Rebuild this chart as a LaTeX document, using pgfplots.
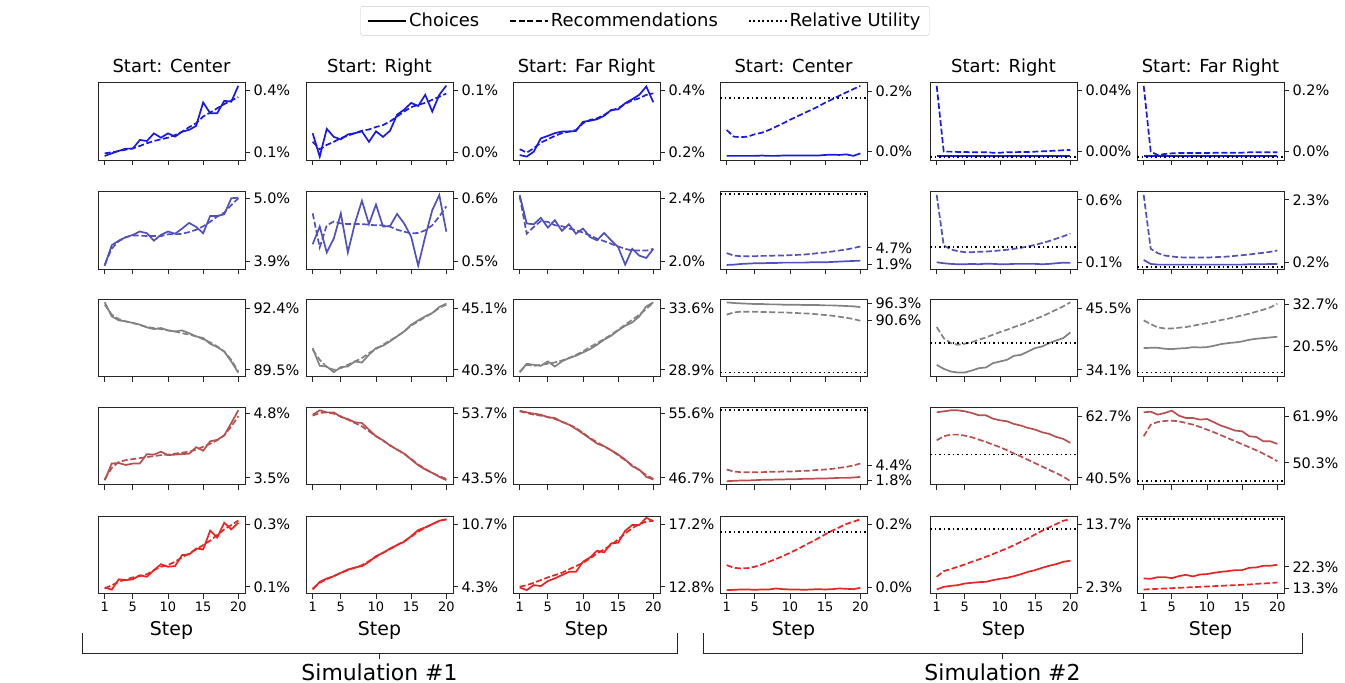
\documentclass[border=0pt]{standalone}
\usepackage{fontspec}
\setmainfont{DejaVu Sans}
\usepackage{pgfplots}
\pgfplotsset{compat=1.18}

\definecolor{cFL}{RGB}{25,25,230}
\definecolor{cL}{RGB}{80,80,190}
\definecolor{cC}{RGB}{130,130,130}
\definecolor{cR}{RGB}{185,80,80}
\definecolor{cFR}{RGB}{235,35,35}

\pgfplotsset{
  panel/.style={scale only axis, width=147bp, height=77.5bp, anchor=north west,
    xmin=0.05, xmax=20.95, xtick={1,5,10,15,20}, xticklabels={},
    xtick pos=left, ytick pos=right, yticklabel pos=right,
    scaled y ticks=false,
    tick align=outside, major tick length=5bp,
    axis line style={black!85, line width=0.9bp},
    tick style={black!85, line width=0.9bp},
    ticklabel style={font=\fontsize{14.5}{16}\selectfont}},
  bottomrow/.style={xticklabels={1,5,10,15,20}, xlabel={Step},
    xlabel style={font=\fontsize{19}{21}\selectfont, yshift=-3bp},
    xticklabel style={font=\fontsize{13}{15}\selectfont}},
  toprow/.style={title={#1}, title style={font=\fontsize{18}{20}\selectfont,
    at={(0.5,1)}, anchor=base, yshift=4bp}},
  ch/.style={line width=1.7bp},
  rec/.style={line width=1.7bp, dash pattern=on 6bp off 2.6bp},
  ru/.style={black, line width=1.8bp, dash pattern=on 1.8bp off 2.7bp},
}
\tikzset{rowlab/.style={anchor=east, font=\fontsize{19}{21}\selectfont}}

\begin{document}
\begin{tikzpicture}
\path[use as bounding box] (0,0) rectangle (1345bp,-683bp);

% ---------------- Simulation #1 ----------------
% Far Left
\begin{axis}[panel, toprow={Start: Center}, at={(98bp,-82.5bp)},
  ymin=0.0627, ymax=0.439, ytick={0.1,0.4}, yticklabels={0.1\%,0.4\%},
  legend columns=3,
  legend style={at={(3.721,1.795)}, anchor=center, draw=black!20, rounded corners=2.5bp,
    font=\fontsize{18}{20}\selectfont, inner xsep=7bp, inner ysep=5bp,
    /tikz/every even column/.append style={column sep=28bp}},
  legend image code/.code={\draw[#1] (0bp,0bp) -- (38bp,0bp);}]
\addlegendimage{ch, black}
\addlegendimage{rec, black}
\addlegendimage{ru}
\legend{Choices, Recommendations, Relative Utility}
\addplot[ch, cFL, forget plot] coordinates {(1,0.082)(2,0.095)(3,0.107)(4,0.118)(5,0.118)(6,0.160)(7,0.155)(8,0.192)(9,0.171)(10,0.192)(11,0.176)(12,0.200)(13,0.209)(14,0.228)(15,0.342)(16,0.290)(17,0.290)(18,0.350)(19,0.346)(20,0.423)};
\addplot[rec, cFL, forget plot] coordinates {(1,0.095)(2,0.100)(3,0.106)(4,0.113)(5,0.119)(6,0.131)(7,0.144)(8,0.155)(9,0.163)(10,0.171)(11,0.184)(12,0.200)(13,0.222)(14,0.241)(15,0.274)(16,0.293)(17,0.314)(18,0.334)(19,0.351)(20,0.368)};
\node[rowlab] at (rel axis cs:-0.05,0.5) {Far Left};
\end{axis}

\begin{axis}[panel, toprow={Start: Right}, at={(306bp,-82.5bp)},
  ymin=-0.0024, ymax=0.123, ytick={0.01,0.11}, yticklabels={0.0\%,0.1\%}]
\addplot[ch, cFL] coordinates {(1,0.041)(2,0.003)(3,0.048)(4,0.035)(5,0.031)(6,0.039)(7,0.041)(8,0.044)(9,0.027)(10,0.044)(11,0.035)(12,0.045)(13,0.071)(14,0.079)(15,0.090)(16,0.085)(17,0.103)(18,0.076)(19,0.103)(20,0.118)};
\addplot[rec, cFL] coordinates {(1,0.027)(2,0.015)(3,0.022)(4,0.027)(5,0.033)(6,0.037)(7,0.041)(8,0.045)(9,0.047)(10,0.051)(11,0.054)(12,0.060)(13,0.068)(14,0.076)(15,0.083)(16,0.087)(17,0.090)(18,0.095)(19,0.100)(20,0.105)};
\end{axis}

\begin{axis}[panel, toprow={Start: Far Right}, at={(513bp,-82.5bp)},
  ymin=0.175, ymax=0.426, ytick={0.2,0.4}, yticklabels={0.2\%,0.4\%}]
\addplot[ch, cFL] coordinates {(1,0.191)(2,0.186)(3,0.202)(4,0.245)(5,0.253)(6,0.262)(7,0.267)(8,0.267)(9,0.269)(10,0.299)(11,0.302)(12,0.307)(13,0.318)(14,0.337)(15,0.339)(16,0.359)(17,0.372)(18,0.386)(19,0.413)(20,0.362)};
\addplot[rec, cFL] coordinates {(1,0.210)(2,0.199)(3,0.213)(4,0.231)(5,0.242)(6,0.253)(7,0.262)(8,0.267)(9,0.272)(10,0.294)(11,0.305)(12,0.310)(13,0.321)(14,0.335)(15,0.343)(16,0.357)(17,0.368)(18,0.375)(19,0.386)(20,0.391)};
\end{axis}

% Left
\begin{axis}[panel, at={(98bp,-191.5bp)},
  ymin=3.765, ymax=5.118, ytick={3.9,5.0}, yticklabels={3.9\%,5.0\%}]
\addplot[ch, cL] coordinates {(1,3.82)(2,4.18)(3,4.26)(4,4.32)(5,4.36)(6,4.42)(7,4.39)(8,4.26)(9,4.36)(10,4.42)(11,4.38)(12,4.47)(13,4.57)(14,4.50)(15,4.39)(16,4.69)(17,4.69)(18,4.72)(19,5.00)(20,5.01)};
\addplot[rec, cL] coordinates {(1,3.84)(2,4.12)(3,4.25)(4,4.32)(5,4.35)(6,4.35)(7,4.34)(8,4.34)(9,4.34)(10,4.37)(11,4.37)(12,4.38)(13,4.41)(14,4.45)(15,4.51)(16,4.59)(17,4.68)(18,4.75)(19,4.88)(20,5.00)};
\node[rowlab] at (rel axis cs:-0.05,0.5) {Left};
\end{axis}

\begin{axis}[panel, at={(306bp,-191.5bp)},
  ymin=0.4877, ymax=0.6107, ytick={0.5,0.6}, yticklabels={0.5\%,0.6\%}]
\addplot[ch, cL] coordinates {(1,0.527)(2,0.555)(3,0.514)(4,0.536)(5,0.576)(6,0.514)(7,0.560)(8,0.596)(9,0.559)(10,0.590)(11,0.555)(12,0.556)(13,0.575)(14,0.560)(15,0.539)(16,0.493)(17,0.539)(18,0.581)(19,0.605)(20,0.547)};
\addplot[rec, cL] coordinates {(1,0.576)(2,0.522)(3,0.557)(4,0.563)(5,0.560)(6,0.559)(7,0.559)(8,0.559)(9,0.558)(10,0.557)(11,0.557)(12,0.555)(13,0.550)(14,0.547)(15,0.544)(16,0.545)(17,0.549)(18,0.557)(19,0.571)(20,0.587)};
\end{axis}

\begin{axis}[panel, at={(513bp,-191.5bp)},
  ymin=1.951, ymax=2.443, ytick={2.0,2.4}, yticklabels={2.0\%,2.4\%}]
\addplot[ch, cL] coordinates {(1,2.420)(2,2.240)(3,2.235)(4,2.276)(5,2.214)(6,2.261)(7,2.193)(8,2.235)(9,2.175)(10,2.208)(11,2.154)(12,2.133)(13,2.180)(14,2.133)(15,2.090)(16,1.979)(17,2.079)(18,2.036)(19,2.021)(20,2.079)};
\addplot[rec, cL] coordinates {(1,2.411)(2,2.175)(3,2.218)(4,2.255)(5,2.250)(6,2.229)(7,2.223)(8,2.208)(9,2.197)(10,2.182)(11,2.165)(12,2.143)(13,2.128)(14,2.111)(15,2.094)(16,2.079)(17,2.068)(18,2.068)(19,2.068)(20,2.079)};
\end{axis}

% Center
\begin{axis}[panel, at={(98bp,-299bp)},
  ymin=89.19, ymax=92.82, ytick={89.5,92.4}, yticklabels={89.5\%,92.4\%}]
\addplot[ch, cC] coordinates {(1,92.67)(2,92.01)(3,91.82)(4,91.77)(5,91.70)(6,91.62)(7,91.49)(8,91.41)(9,91.46)(10,91.35)(11,91.30)(12,91.35)(13,91.22)(14,91.07)(15,90.99)(16,90.72)(17,90.57)(18,90.36)(19,89.89)(20,89.37)};
\addplot[rec, cC] coordinates {(1,92.56)(2,92.09)(3,91.88)(4,91.77)(5,91.70)(6,91.60)(7,91.51)(8,91.46)(9,91.41)(10,91.35)(11,91.30)(12,91.22)(13,91.15)(14,91.07)(15,90.94)(16,90.79)(17,90.60)(18,90.36)(19,89.97)(20,89.42)};
\node[rowlab] at (rel axis cs:-0.05,0.5) {Center};
\end{axis}

\begin{axis}[panel, at={(306bp,-299bp)},
  ymin=39.78, ymax=45.80, ytick={40.3,45.1}, yticklabels={40.3\%,45.1\%}]
\addplot[ch, cC] coordinates {(1,41.99)(2,40.61)(3,40.56)(4,40.12)(5,40.51)(6,40.56)(7,40.95)(8,40.87)(9,41.47)(10,41.99)(11,42.17)(12,42.51)(13,42.90)(14,43.28)(15,43.80)(16,44.14)(17,44.45)(18,44.71)(19,45.18)(20,45.44)};
\addplot[rec, cC] coordinates {(1,41.86)(2,41.08)(3,40.51)(4,40.30)(5,40.43)(6,40.69)(7,40.95)(8,41.21)(9,41.60)(10,41.91)(11,42.25)(12,42.58)(13,42.90)(14,43.28)(15,43.73)(16,44.06)(17,44.40)(18,44.71)(19,45.10)(20,45.36)};
\end{axis}

\begin{axis}[panel, at={(513bp,-299bp)},
  ymin=28.39, ymax=34.29, ytick={28.9,33.6}, yticklabels={28.9\%,33.6\%}]
\addplot[ch, cC] coordinates {(1,28.70)(2,29.36)(3,29.28)(4,29.20)(5,29.54)(6,29.15)(7,29.54)(8,29.79)(9,29.97)(10,30.22)(11,30.47)(12,30.81)(13,31.19)(14,31.49)(15,31.90)(16,32.25)(17,32.51)(18,32.96)(19,33.73)(20,34.03)};
\addplot[rec, cC] coordinates {(1,28.77)(2,29.28)(3,29.20)(4,29.28)(5,29.36)(6,29.46)(7,29.61)(8,29.79)(9,30.04)(10,30.30)(11,30.63)(12,30.93)(13,31.24)(14,31.57)(15,31.95)(16,32.33)(17,32.71)(18,33.09)(19,33.52)(20,34.03)};
\end{axis}

% Right
\begin{axis}[panel, at={(98bp,-407bp)},
  ymin=3.365, ymax=4.935, ytick={3.5,4.8}, yticklabels={3.5\%,4.8\%}]
\addplot[ch, cR] coordinates {(1,3.45)(2,3.79)(3,3.80)(4,3.76)(5,3.79)(6,3.79)(7,3.98)(8,3.97)(9,4.03)(10,3.96)(11,3.97)(12,3.98)(13,3.99)(14,4.12)(15,4.05)(16,4.24)(17,4.27)(18,4.36)(19,4.61)(20,4.87)};
\addplot[rec, cR] coordinates {(1,3.47)(2,3.70)(3,3.82)(4,3.86)(5,3.88)(6,3.90)(7,3.92)(8,3.94)(9,3.96)(10,3.97)(11,3.99)(12,4.01)(13,4.03)(14,4.07)(15,4.13)(16,4.19)(17,4.26)(18,4.36)(19,4.54)(20,4.75)};
\node[rowlab] at (rel axis cs:-0.05,0.5) {Right};
\end{axis}

\begin{axis}[panel, at={(306bp,-407bp)},
  ymin=42.44, ymax=54.76, ytick={43.5,53.7}, yticklabels={43.5\%,53.7\%}]
\addplot[ch, cR] coordinates {(1,53.54)(2,54.23)(3,53.91)(4,53.91)(5,53.17)(6,52.85)(7,52.33)(8,52.22)(9,51.16)(10,50.11)(11,49.47)(12,48.63)(13,47.99)(14,47.36)(15,46.41)(16,45.51)(17,44.82)(18,44.29)(19,43.66)(20,43.13)};
\addplot[rec, cR] coordinates {(1,53.38)(2,53.81)(3,53.91)(4,53.70)(5,53.28)(6,52.75)(7,52.22)(8,51.69)(9,50.90)(10,50.11)(11,49.42)(12,48.68)(13,47.99)(14,47.31)(15,46.51)(16,45.61)(17,44.93)(18,44.29)(19,43.76)(20,43.34)};
\end{axis}

\begin{axis}[panel, at={(513bp,-407bp)},
  ymin=45.78, ymax=56.52, ytick={46.7,55.6}, yticklabels={46.7\%,55.6\%}]
\addplot[ch, cR] coordinates {(1,56.01)(2,55.78)(3,55.60)(4,55.46)(5,55.09)(6,55.00)(7,54.45)(8,54.08)(9,53.48)(10,52.83)(11,52.14)(12,51.45)(13,51.08)(14,50.53)(15,49.93)(16,49.24)(17,48.31)(18,47.85)(19,46.84)(20,46.47)};
\addplot[rec, cR] coordinates {(1,55.92)(2,55.69)(3,55.46)(4,55.32)(5,55.14)(6,54.86)(7,54.49)(8,54.08)(9,53.62)(10,52.92)(11,52.23)(12,51.63)(13,51.08)(14,50.53)(15,49.84)(16,49.14)(17,48.45)(18,47.76)(19,47.07)(20,46.56)};
\end{axis}

% Far Right
\begin{axis}[panel, bottomrow, at={(98bp,-516bp)},
  ymin=0.0787, ymax=0.3255, ytick={0.1,0.3}, yticklabels={0.1\%,0.3\%}]
\addplot[ch, cFR] coordinates {(1,0.098)(2,0.091)(3,0.124)(4,0.121)(5,0.124)(6,0.137)(7,0.132)(8,0.153)(9,0.172)(10,0.164)(11,0.166)(12,0.201)(13,0.203)(14,0.222)(15,0.219)(16,0.279)(17,0.257)(18,0.304)(19,0.283)(20,0.304)};
\addplot[rec, cFR] coordinates {(1,0.095)(2,0.105)(3,0.116)(4,0.123)(5,0.130)(6,0.134)(7,0.140)(8,0.153)(9,0.164)(10,0.169)(11,0.180)(12,0.194)(13,0.206)(14,0.219)(15,0.233)(16,0.247)(17,0.265)(18,0.283)(19,0.297)(20,0.311)};
\node[rowlab] at (rel axis cs:-0.05,0.5) {Far Right};
\end{axis}

\begin{axis}[panel, bottomrow, at={(306bp,-516bp)},
  ymin=3.62, ymax=11.52, ytick={4.3,10.7}, yticklabels={4.3\%,10.7\%}]
\addplot[ch, cFR] coordinates {(1,4.03)(2,4.81)(3,5.15)(4,5.39)(5,5.73)(6,6.07)(7,6.27)(8,6.41)(9,6.85)(10,7.43)(11,7.77)(12,8.21)(13,8.56)(14,8.90)(15,9.47)(16,10.09)(17,10.36)(18,10.70)(19,11.04)(20,11.18)};
\addplot[rec, cFR] coordinates {(1,4.13)(2,4.71)(3,5.08)(4,5.39)(5,5.73)(6,6.00)(7,6.24)(8,6.51)(9,6.92)(10,7.36)(11,7.77)(12,8.15)(13,8.56)(14,8.96)(15,9.41)(16,9.92)(17,10.33)(18,10.67)(19,11.01)(20,11.18)};
\end{axis}

\begin{axis}[panel, bottomrow, at={(513bp,-516bp)},
  ymin=12.33, ymax=17.76, ytick={12.8,17.2}, yticklabels={12.8\%,17.2\%}]
\addplot[ch, cFR] coordinates {(1,12.75)(2,12.57)(3,12.92)(4,12.85)(5,13.20)(6,13.39)(7,13.62)(8,13.85)(9,13.85)(10,14.56)(11,14.86)(12,15.33)(13,15.21)(14,15.84)(15,15.89)(16,16.73)(17,17.13)(18,17.13)(19,17.63)(20,17.40)};
\addplot[rec, cFR] coordinates {(1,12.80)(2,12.92)(3,13.08)(4,13.27)(5,13.46)(6,13.62)(7,13.78)(8,14.02)(9,14.25)(10,14.48)(11,14.79)(12,15.14)(13,15.42)(14,15.73)(15,16.12)(16,16.54)(17,16.90)(18,17.20)(19,17.36)(20,17.43)};
\end{axis}

% ---------------- Simulation #2 ----------------
% Far Left
\begin{axis}[panel, toprow={Start: Center}, at={(720bp,-82.5bp)},
  ymin=-0.0128, ymax=0.245, ytick={0.015,0.215}, yticklabels={0.0\%,0.2\%}]
\addplot[ch, cFL] coordinates {(1,0.001)(2,0.001)(3,0.001)(4,0.001)(5,0.001)(6,0.002)(7,0.001)(8,0.001)(9,0.002)(10,0.002)(11,0.002)(12,0.002)(13,0.002)(14,0.002)(15,0.004)(16,0.005)(17,0.004)(18,0.006)(19,0.001)(20,0.009)};
\addplot[rec, cFL] coordinates {(1,0.087)(2,0.065)(3,0.063)(4,0.065)(5,0.073)(6,0.078)(7,0.087)(8,0.098)(9,0.109)(10,0.121)(11,0.132)(12,0.143)(13,0.154)(14,0.165)(15,0.178)(16,0.189)(17,0.201)(18,0.212)(19,0.223)(20,0.234)};
\addplot[ru] coordinates {(0.05,0.193)(20.95,0.193)};
\end{axis}

\begin{axis}[panel, toprow={Start: Right}, at={(930bp,-82.5bp)},
  ymin=-0.00147, ymax=0.0493, ytick={0.004,0.044}, yticklabels={0.00\%,0.04\%}]
\addplot[ch, cFL] coordinates {(1,0.0012)(2,0.0012)(3,0.0012)(4,0.0012)(5,0.0012)(6,0.0012)(7,0.0012)(8,0.0012)(9,0.0012)(10,0.0012)(11,0.0012)(12,0.0012)(13,0.0012)(14,0.0012)(15,0.0012)(16,0.0012)(17,0.0012)(18,0.0012)(19,0.0012)(20,0.0012)};
\addplot[rec, cFL] coordinates {(1,0.0471)(2,0.0040)(3,0.0040)(4,0.0038)(5,0.0038)(6,0.0036)(7,0.0036)(8,0.0036)(9,0.0033)(10,0.0033)(11,0.0036)(12,0.0036)(13,0.0038)(14,0.0038)(15,0.0040)(16,0.0042)(17,0.0044)(18,0.0047)(19,0.0049)(20,0.0051)};
\addplot[ru] coordinates {(0.05,0.0005)(20.95,0.0005)};
\end{axis}

\begin{axis}[panel, toprow={Start: Far Right}, at={(1137bp,-82.5bp)},
  ymin=-0.0073, ymax=0.246, ytick={0.02,0.22}, yticklabels={0.0\%,0.2\%}]
\addplot[ch, cFL] coordinates {(1,0.006)(2,0.006)(3,0.006)(4,0.006)(5,0.006)(6,0.006)(7,0.006)(8,0.006)(9,0.006)(10,0.006)(11,0.006)(12,0.006)(13,0.006)(14,0.006)(15,0.006)(16,0.006)(17,0.006)(18,0.006)(19,0.006)(20,0.006)};
\addplot[rec, cFL] coordinates {(1,0.235)(2,0.020)(3,0.009)(4,0.0123)(5,0.0145)(6,0.0156)(7,0.0156)(8,0.0156)(9,0.0156)(10,0.0156)(11,0.0167)(12,0.0167)(13,0.0167)(14,0.0167)(15,0.0167)(16,0.0178)(17,0.0178)(18,0.0178)(19,0.0178)(20,0.0178)};
\addplot[ru] coordinates {(0.05,0.0036)(20.95,0.0036)};
\end{axis}

% Left
\begin{axis}[panel, at={(720bp,-191.5bp)},
  ymin=1.03, ymax=14.43, ytick={1.9,4.7}, yticklabels={1.9\%,4.7\%}]
\addplot[ch, cL] coordinates {(1,1.73)(2,1.78)(3,1.90)(4,1.96)(5,2.02)(6,2.02)(7,2.07)(8,2.07)(9,2.13)(10,2.13)(11,2.13)(12,2.13)(13,2.19)(14,2.19)(15,2.19)(16,2.25)(17,2.31)(18,2.37)(19,2.42)(20,2.48)};
\addplot[rec, cL] coordinates {(1,3.77)(2,3.36)(3,3.24)(4,3.24)(5,3.24)(6,3.30)(7,3.30)(8,3.36)(9,3.36)(10,3.42)(11,3.47)(12,3.53)(13,3.65)(14,3.77)(15,3.88)(16,4.06)(17,4.23)(18,4.41)(19,4.64)(20,4.93)};
\addplot[ru] coordinates {(0.05,13.97)(20.95,13.97)};
\end{axis}

\begin{axis}[panel, at={(930bp,-191.5bp)},
  ymin=0.046, ymax=0.667, ytick={0.1,0.6}, yticklabels={0.1\%,0.6\%}]
\addplot[ch, cL] coordinates {(1,0.100)(2,0.092)(3,0.087)(4,0.084)(5,0.084)(6,0.087)(7,0.084)(8,0.089)(9,0.087)(10,0.084)(11,0.084)(12,0.087)(13,0.087)(14,0.087)(15,0.087)(16,0.084)(17,0.087)(18,0.092)(19,0.097)(20,0.095)};
\addplot[rec, cL] coordinates {(1,0.640)(2,0.235)(3,0.203)(4,0.189)(5,0.181)(6,0.181)(7,0.184)(8,0.186)(9,0.189)(10,0.195)(11,0.200)(12,0.208)(13,0.216)(14,0.227)(15,0.240)(16,0.254)(17,0.270)(18,0.289)(19,0.308)(20,0.330)};
\addplot[ru] coordinates {(0.05,0.222)(20.95,0.222)};
\end{axis}

\begin{axis}[panel, at={(1137bp,-191.5bp)},
  ymin=-0.027, ymax=2.584, ytick={0.2,2.3}, yticklabels={0.2\%,2.3\%}]
\addplot[ch, cL] coordinates {(1,0.279)(2,0.143)(3,0.121)(4,0.121)(5,0.121)(6,0.121)(7,0.121)(8,0.121)(9,0.121)(10,0.121)(11,0.121)(12,0.121)(13,0.121)(14,0.121)(15,0.121)(16,0.132)(17,0.132)(18,0.132)(19,0.143)(20,0.143)};
\addplot[rec, cL] coordinates {(1,2.47)(2,0.654)(3,0.506)(4,0.427)(5,0.393)(6,0.370)(7,0.359)(8,0.359)(9,0.359)(10,0.359)(11,0.370)(12,0.382)(13,0.393)(14,0.416)(15,0.439)(16,0.461)(17,0.495)(18,0.518)(19,0.552)(20,0.597)};
\addplot[ru] coordinates {(0.05,0.052)(20.95,0.052)};
\end{axis}

% Center
\begin{axis}[panel, at={(720bp,-299bp)},
  ymin=71.93, ymax=97.87, ytick={90.6,96.3}, yticklabels={90.6\%,96.3\%}]
\addplot[ch, cC] coordinates {(1,96.75)(2,96.53)(3,96.41)(4,96.30)(5,96.19)(6,96.19)(7,96.08)(8,96.08)(9,95.97)(10,95.97)(11,95.97)(12,95.85)(13,95.85)(14,95.85)(15,95.74)(16,95.74)(17,95.63)(18,95.52)(19,95.41)(20,95.18)};
\addplot[rec, cC] coordinates {(1,92.61)(2,93.40)(3,93.62)(4,93.62)(5,93.62)(6,93.51)(7,93.51)(8,93.40)(9,93.40)(10,93.28)(11,93.17)(12,93.06)(13,92.95)(14,92.72)(15,92.50)(16,92.28)(17,91.94)(18,91.61)(19,91.16)(20,90.60)};
\addplot[ru] coordinates {(0.05,73.27)(20.95,73.27)};
\end{axis}

\begin{axis}[panel, at={(930bp,-299bp)},
  ymin=32.87, ymax=47.16, ytick={34.1,45.5}, yticklabels={34.1\%,45.5\%}]
\addplot[ch, cC] coordinates {(1,35.02)(2,34.28)(3,33.79)(4,33.61)(5,33.61)(6,33.98)(7,34.41)(8,34.53)(9,35.33)(10,35.64)(11,35.95)(12,36.69)(13,36.87)(14,37.49)(15,38.11)(16,38.41)(17,39.03)(18,39.52)(19,39.95)(20,41.00)};
\addplot[rec, cC] coordinates {(1,41.99)(2,39.95)(3,39.03)(4,38.72)(5,38.91)(6,39.21)(7,39.65)(8,40.08)(9,40.57)(10,41.06)(11,41.49)(12,41.99)(13,42.42)(14,42.91)(15,43.47)(16,43.96)(17,44.58)(18,45.19)(19,45.81)(20,46.55)};
\addplot[ru] coordinates {(0.05,39.03)(20.95,39.03)};
\end{axis}

\begin{axis}[panel, at={(1137bp,-299bp)},
  ymin=11.72, ymax=34.36, ytick={20.5,32.7}, yticklabels={20.5\%,32.7\%}]
\addplot[ch, cC] coordinates {(1,20.01)(2,20.11)(3,20.11)(4,19.82)(5,19.72)(6,19.91)(7,20.01)(8,20.30)(9,20.21)(10,20.30)(11,20.70)(12,21.18)(13,21.48)(14,21.67)(15,21.96)(16,22.45)(17,22.74)(18,22.94)(19,23.14)(20,23.33)};
\addplot[rec, cC] coordinates {(1,28.11)(2,27.04)(3,26.06)(4,25.77)(5,25.77)(6,25.97)(7,26.16)(8,26.55)(9,26.94)(10,27.33)(11,27.72)(12,28.21)(13,28.60)(14,29.09)(15,29.58)(16,30.06)(17,30.65)(18,31.24)(19,31.92)(20,32.99)};
\addplot[ru] coordinates {(0.05,12.89)(20.95,12.89)};
\end{axis}

% Right
\begin{axis}[panel, at={(720bp,-407bp)},
  ymin=1.03, ymax=14.80, ytick={1.8,4.4}, yticklabels={1.8\%,4.4\%}]
\addplot[ch, cR] coordinates {(1,1.62)(2,1.68)(3,1.74)(4,1.74)(5,1.80)(6,1.86)(7,1.86)(8,1.92)(9,1.92)(10,1.98)(11,1.98)(12,2.04)(13,2.04)(14,2.10)(15,2.10)(16,2.15)(17,2.21)(18,2.21)(19,2.27)(20,2.39)};
\addplot[rec, cR] coordinates {(1,3.69)(2,3.34)(3,3.22)(4,3.22)(5,3.22)(6,3.22)(7,3.28)(8,3.28)(9,3.34)(10,3.34)(11,3.40)(12,3.45)(13,3.51)(14,3.63)(15,3.69)(16,3.81)(17,3.99)(18,4.16)(19,4.40)(20,4.76)};
\addplot[ru] coordinates {(0.05,14.21)(20.95,14.21)};
\end{axis}

\begin{axis}[panel, at={(930bp,-407bp)},
  ymin=38.1, ymax=66.06, ytick={40.5,62.7}, yticklabels={40.5\%,62.7\%}]
\addplot[ch, cR] coordinates {(1,64.14)(2,64.50)(3,64.86)(4,64.86)(5,64.50)(6,63.90)(7,63.06)(8,63.06)(9,61.86)(10,61.26)(11,60.90)(12,59.94)(13,59.34)(14,58.50)(15,57.90)(16,56.94)(17,56.34)(18,55.26)(19,54.54)(20,53.10)};
\addplot[rec, cR] coordinates {(1,54.06)(2,55.50)(3,56.10)(4,56.10)(5,55.74)(6,55.14)(7,54.30)(8,53.46)(9,52.50)(10,51.54)(11,50.46)(12,49.26)(13,48.18)(14,46.98)(15,45.78)(16,44.58)(17,43.38)(18,42.18)(19,40.98)(20,39.30)};
\addplot[ru] coordinates {(0.05,48.9)(20.95,48.9)};
\end{axis}

\begin{axis}[panel, at={(1137bp,-407bp)},
  ymin=44.91, ymax=64.23, ytick={50.3,61.9}, yticklabels={50.3\%,61.9\%}]
\addplot[ch, cR] coordinates {(1,62.90)(2,63.07)(3,62.32)(4,62.74)(5,63.32)(6,62.07)(7,61.49)(8,61.49)(9,61.08)(10,61.24)(11,60.41)(12,59.58)(13,59.00)(14,58.34)(15,58.18)(16,56.93)(17,56.77)(18,55.69)(19,55.69)(20,55.03)};
\addplot[rec, cR] coordinates {(1,56.93)(2,59.83)(3,60.50)(4,60.75)(5,60.83)(6,60.66)(7,60.25)(8,59.83)(9,59.25)(10,58.59)(11,57.93)(12,57.18)(13,56.43)(14,55.69)(15,54.94)(16,54.20)(17,53.45)(18,52.62)(19,51.71)(20,50.71)};
\addplot[ru] coordinates {(0.05,45.74)(20.95,45.74)};
\end{axis}

% Far Right
\begin{axis}[panel, bottomrow, at={(720bp,-516bp)},
  ymin=-0.004, ymax=0.2403, ytick={0.015,0.215}, yticklabels={0.0\%,0.2\%}]
\addplot[ch, cFR] coordinates {(1,0.0066)(2,0.0076)(3,0.0087)(4,0.0087)(5,0.0076)(6,0.0087)(7,0.0087)(8,0.0118)(9,0.0097)(10,0.0087)(11,0.0087)(12,0.0076)(13,0.0087)(14,0.0097)(15,0.0087)(16,0.0097)(17,0.0118)(18,0.0108)(19,0.0097)(20,0.0139)};
\addplot[rec, cFR] coordinates {(1,0.0855)(2,0.0771)(3,0.0750)(4,0.0761)(5,0.0803)(6,0.0877)(7,0.0961)(8,0.1045)(9,0.1140)(10,0.1245)(11,0.1350)(12,0.1466)(13,0.1582)(14,0.1698)(15,0.1824)(16,0.1940)(17,0.2045)(18,0.2150)(19,0.2224)(20,0.2298)};
\addplot[ru] coordinates {(0.05,0.1887)(20.95,0.1887)};
\end{axis}

\begin{axis}[panel, bottomrow, at={(930bp,-516bp)},
  ymin=1.22, ymax=15.14, ytick={2.3,13.7}, yticklabels={2.3\%,13.7\%}]
\addplot[ch, cFR] coordinates {(1,1.94)(2,2.42)(3,2.60)(4,2.72)(5,3.02)(6,3.14)(7,3.26)(8,3.32)(9,3.62)(10,3.86)(11,4.04)(12,4.34)(13,4.70)(14,5.12)(15,5.42)(16,5.84)(17,6.20)(18,6.50)(19,6.92)(20,7.10)};
\addplot[rec, cFR] coordinates {(1,4.22)(2,5.24)(3,5.60)(4,6.02)(5,6.44)(6,6.92)(7,7.34)(8,7.82)(9,8.30)(10,8.84)(11,9.32)(12,9.92)(13,10.52)(14,11.12)(15,11.84)(16,12.50)(17,13.10)(18,13.70)(19,14.30)(20,14.54)};
\addplot[ru] coordinates {(0.05,12.74)(20.95,12.74)};
\end{axis}

\begin{axis}[panel, bottomrow, at={(1137bp,-516bp)},
  ymin=11.22, ymax=43.35, ytick={13.3,22.3}, yticklabels={13.3\%,22.3\%}]
\addplot[ch, cFR] coordinates {(1,17.45)(2,17.32)(3,18.01)(4,18.01)(5,17.59)(6,18.42)(7,18.98)(8,18.29)(9,19.12)(10,19.26)(11,19.81)(12,20.22)(13,20.50)(14,20.92)(15,20.92)(16,21.89)(17,22.03)(18,22.72)(19,22.72)(20,23.13)};
\addplot[rec, cFR] coordinates {(1,12.88)(2,13.02)(3,13.16)(4,13.30)(5,13.44)(6,13.58)(7,13.72)(8,13.85)(9,13.99)(10,14.13)(11,14.27)(12,14.41)(13,14.55)(14,14.69)(15,14.82)(16,14.96)(17,15.24)(18,15.38)(19,15.52)(20,15.79)};
\addplot[ru] coordinates {(0.05,42.11)(20.95,42.11)};
\end{axis}

% brackets
\draw[black!85, line width=1bp] (82bp,-633bp) -- (82bp,-653bp) -- (677bp,-653bp) -- (677bp,-633bp);
\draw[black!85, line width=1bp] (379.5bp,-653bp) -- (379.5bp,-659bp);
\node[font=\fontsize{22}{24}\selectfont] at (379.5bp,-672bp) {Simulation \#1};
\draw[black!85, line width=1bp] (703bp,-633bp) -- (703bp,-653bp) -- (1302bp,-653bp) -- (1302bp,-633bp);
\draw[black!85, line width=1bp] (1002.5bp,-653bp) -- (1002.5bp,-659bp);
\node[font=\fontsize{22}{24}\selectfont] at (1002.5bp,-672bp) {Simulation \#2};
\end{tikzpicture}
\end{document}
